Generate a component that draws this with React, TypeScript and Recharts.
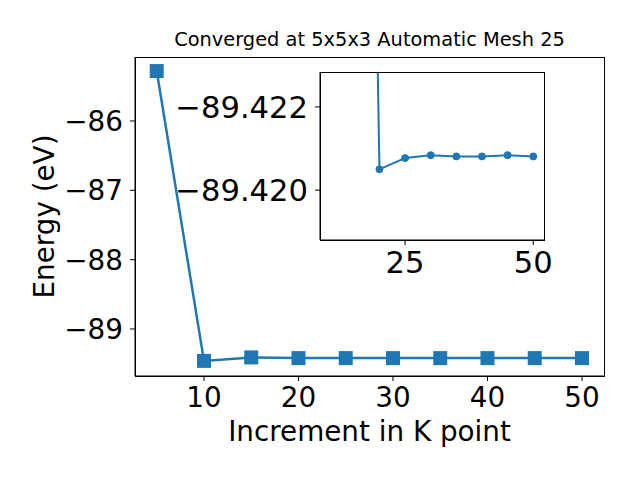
import { Label, Line, LineChart, XAxis, YAxis } from "recharts";

const kPoints = [5, 10, 15, 20, 25, 30, 35, 40, 45, 50];
const energies = [-85.28, -89.46, -89.41, -89.42, -89.42, -89.42, -89.42, -89.42, -89.42, -89.42];

const insetKPoints = [15, 20, 25, 30, 35, 40, 45, 50];
const insetEnergies = [-89.456, -89.4205, -89.42077, -89.42084, -89.42081, -89.42081, -89.42084, -89.42081];

const xTicks = [10, 20, 30, 40, 50];
const yTicks = [-89, -88, -87, -86];
const insetXTicks = [25, 50];
const insetYTicks = [-89.422, -89.42];

const mainData = kPoints.map((k, i) => ({ k, e: energies[i] }));
const insetData = insetKPoints.map((k, i) => ({ k, e: insetEnergies[i] }));

const BLUE = "#1f77b4";
const FONT = "DejaVu Sans, sans-serif";
const tickStyle = { fill: "#000", fontSize: 27.8, fontFamily: FONT };
const insetTickStyle = { fill: "#000", fontSize: 30.6, fontFamily: FONT };
const minus = (s: string) => s.replace("-", "\u2212");

function Square(props: any) {
  const { cx, cy, index } = props;
  if (cx == null || cy == null) return <g key={index} />;
  return <rect key={index} x={cx - 7} y={cy - 7} width={14} height={14} fill={BLUE} />;
}

function Frame({ left, top, width, height }: { left: number; top: number; width: number; height: number }) {
  return (
    <div
      style={{
        position: "absolute",
        left,
        top,
        width,
        height,
        boxSizing: "border-box",
        border: "1px solid #000",
        pointerEvents: "none",
      }}
    />
  );
}

export default function App() {
  return (
    <div style={{ position: "relative", width: 640, height: 480, background: "#fff", margin: -8 }}>
      <LineChart
        width={640}
        height={480}
        data={mainData}
        margin={{ top: 57, right: 36, bottom: 44, left: 55 }}
        style={{ position: "absolute", left: 0, top: 0 }}
      >
        <text x={369.5} y={46} textAnchor="middle" fontSize={19.4} fontFamily={FONT} fill="#000">
          Converged at 5x5x3 Automatic Mesh 25
        </text>
        <XAxis
          dataKey="k"
          type="number"
          domain={[2.7, 52.33]}
          ticks={xTicks}
          allowDataOverflow
          height={60}
          stroke="#000"
          tickSize={5}
          tickMargin={6}
          tick={tickStyle}
        >
          <Label
            content={() => (
              <text x={369.5} y={441} textAnchor="middle" fontSize={27.8} fontFamily={FONT} fill="#000">
                Increment in K point
              </text>
            )}
          />
        </XAxis>
        <YAxis
          type="number"
          domain={[-89.678, -85.077]}
          ticks={yTicks}
          allowDataOverflow
          width={80}
          stroke="#000"
          tickSize={5}
          tickMargin={7}
          tick={tickStyle}
          tickFormatter={(v: number) => minus(String(v))}
        >
          <Label
            content={() => (
              <text
                x={0}
                y={0}
                transform="translate(54 216.5) rotate(-90)"
                textAnchor="middle"
                fontSize={27.8}
                fontFamily={FONT}
                fill="#000"
              >
                Energy (eV)
              </text>
            )}
          />
        </YAxis>
        <Line
          dataKey="e"
          stroke={BLUE}
          strokeWidth={2.5}
          dot={<Square />}
          activeDot={false}
          isAnimationActive={false}
        />
      </LineChart>
      <Frame left={135} top={57} width={470} height={320} />

      <LineChart
        width={410}
        height={220}
        data={insetData}
        margin={{ top: 12, right: 16, bottom: 0, left: 0 }}
        style={{ position: "absolute", left: 150, top: 60 }}
      >
        <XAxis
          dataKey="k"
          type="number"
          domain={[8.4, 52.1]}
          ticks={insetXTicks}
          allowDataOverflow
          height={40}
          stroke="#000"
          tickSize={5}
          tickMargin={6}
          tick={insetTickStyle}
        />
        <YAxis
          type="number"
          domain={[-89.42284, -89.4188]}
          reversed
          ticks={insetYTicks}
          allowDataOverflow
          width={170}
          stroke="#000"
          tickSize={5}
          tickMargin={7}
          tick={insetTickStyle}
          tickFormatter={(v: number) => minus(v.toFixed(3))}
        />
        <Line
          dataKey="e"
          stroke={BLUE}
          strokeWidth={2}
          dot={{ r: 3.5, fill: BLUE, stroke: BLUE, strokeWidth: 1 }}
          activeDot={false}
          isAnimationActive={false}
        />
      </LineChart>
      <Frame left={320} top={72} width={225} height={169} />
    </div>
  );
}
